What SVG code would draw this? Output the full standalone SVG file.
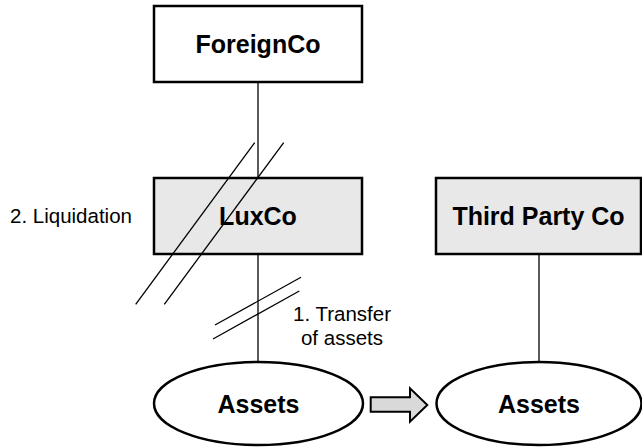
<svg xmlns="http://www.w3.org/2000/svg" width="642" height="447" viewBox="0 0 642 447">
<style>
.box{stroke:#000;stroke-width:2.5}
.w{fill:#fff}
.g{fill:#e8e8e8}
.ell{fill:#fff;stroke:#000;stroke-width:2.5}
.b{font-family:"Liberation Sans",Arial,sans-serif;font-weight:bold;font-size:25px;fill:#000;text-anchor:middle}
.r{font-family:"Liberation Sans",Arial,sans-serif;font-size:20.5px;fill:#000}
.ln{stroke:#000;stroke-width:1.3;fill:none}
</style>
<rect width="642" height="447" fill="#fff"/>
<g id="connectors">
<line class="ln" x1="258" y1="82" x2="258" y2="178"/>
<line class="ln" x1="258" y1="254" x2="258" y2="362"/>
<line class="ln" x1="539" y1="254" x2="539" y2="362"/>
<path d="M370.7,397.3 H410 V388.3 L427.3,405 L410,421.7 V411.7 H370.7 Z" fill="#d9d9d9" stroke="#000" stroke-width="2"/>
</g>
<g id="foreignco">
<rect class="box w" x="154" y="6" width="208" height="76"/>
<text class="b" x="258" y="53">ForeignCo</text>
</g>
<g id="luxco">
<rect class="box g" x="154" y="178" width="208" height="76"/>
<text class="b" x="258" y="225">LuxCo</text>
</g>
<g id="thirdparty">
<rect class="box g" x="436" y="178" width="205" height="76"/>
<text class="b" x="538.5" y="225">Third Party Co</text>
</g>
<g id="assets-left">
<ellipse class="ell" cx="258.5" cy="403.5" rx="104.5" ry="41.5"/>
<text class="b" x="258.5" y="412.5">Assets</text>
</g>
<g id="assets-right">
<ellipse class="ell" cx="539" cy="403.5" rx="102.5" ry="41.5"/>
<text class="b" x="539" y="412.5">Assets</text>
</g>
<g id="liquidation">
<line class="ln" x1="254.7" y1="142.7" x2="135.7" y2="304.3"/>
<line class="ln" x1="283.7" y1="142.7" x2="164.3" y2="304.3"/>
<text class="r" x="10" y="223">2. Liquidation</text>
</g>
<g id="transfer">
<line class="ln" x1="215" y1="325" x2="301" y2="277.3"/>
<line class="ln" x1="213" y1="339" x2="299.3" y2="291"/>
<text class="r" x="342" y="321" text-anchor="middle">1. Transfer</text>
<text class="r" x="342" y="345" text-anchor="middle">of assets</text>
</g>
</svg>
